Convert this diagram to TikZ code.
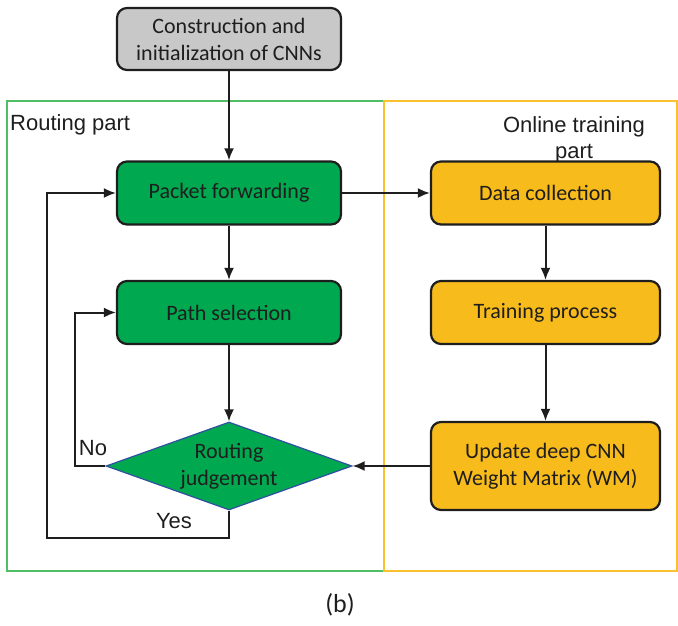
\documentclass[tikz,border=0pt]{standalone}
\usepackage{fontspec}
\setmainfont{Carlito}
\newfontfamily\labelfont{Liberation Sans}
\usetikzlibrary{shapes.geometric,arrows.meta}
\definecolor{boxgreen}{RGB}{0,168,80}
\definecolor{boxorange}{RGB}{248,187,28}
\definecolor{boxgray}{RGB}{200,200,200}
\definecolor{framegreen}{RGB}{80,190,100}
\definecolor{frameorange}{RGB}{251,192,45}
\definecolor{diaedge}{RGB}{50,80,160}
\definecolor{ink}{RGB}{30,30,30}
\tikzset{
  stepbox/.style={draw=ink, line width=2.2pt, rounded corners=10pt,
    minimum width=224pt, minimum height=63pt, align=center, text=ink,
    font=\fontsize{22}{27}\selectfont, inner sep=2pt},
  greenbox/.style={stepbox, fill=boxgreen},
  orangebox/.style={stepbox, fill=boxorange, minimum width=229pt},
  graybox/.style={stepbox, fill=boxgray, minimum height=62pt},
  decision/.style={diamond, aspect=2.8, draw=diaedge, line width=1.2pt, fill=boxgreen,
    minimum width=246pt, minimum height=88pt, inner sep=0pt, align=center,
    text=ink, font=\fontsize{22}{27}\selectfont},
  flow/.style={draw=ink, line width=2pt, -{Latex[length=12pt,width=10pt]}},
  tag/.style={font=\labelfont\fontsize{22}{26}\selectfont, text=ink, inner sep=0pt}
}
\begin{document}
\begin{tikzpicture}[x=1pt,y=-1pt]
\useasboundingbox (0,0) rectangle (678,625);
% section frames
\draw[framegreen, line width=2pt] (7,101) rectangle (384,571);
\draw[frameorange, line width=2pt] (384,101) -- (677,101) -- (677,571) -- (384,571) -- cycle;
\node[tag, anchor=west] (routing) at (10,125) {Routing part};
\node[tag, align=center] (online) at (574,140) {Online training\\part};
% flow nodes
\node[graybox] (init) at (229,39) {Construction and\\initialization of CNNs};
\node[greenbox] (fwd) at (229,193) {Packet forwarding};
\node[greenbox] (path) at (229,312.5) {Path selection};
\node[decision] (judge) at (229,466) {Routing\\judgement};
\node[orangebox] (data) at (545.5,193) {Data collection};
\node[orangebox] (train) at (545.5,312.5) {Training process};
\node[orangebox, minimum height=88pt] (update) at (545.5,466) {Update deep CNN\\Weight Matrix (WM)};
% connectors
\draw[flow] (init) -- (fwd);
\draw[flow] (fwd) -- (path);
\draw[flow] (path) -- (judge);
\draw[flow] (fwd) -- (data);
\draw[flow] (data) -- (train);
\draw[flow] (train) -- (update);
\draw[flow] (update) -- (judge.east);
\coordinate (nocorner) at (75,466);
\coordinate (yescorner) at (47,538);
\draw[flow] (judge.west) -- (nocorner) |- (path.west);
\draw[flow] (judge.south) |- (yescorner) |- (fwd.west);
\node[tag] (nolabel) at (93,448) {No};
\node[tag] (yeslabel) at (174,521) {Yes};
\node[font=\fontsize{26}{30}\selectfont, text=ink] (caption) at (340,605) {(b)};
\end{tikzpicture}
\end{document}
